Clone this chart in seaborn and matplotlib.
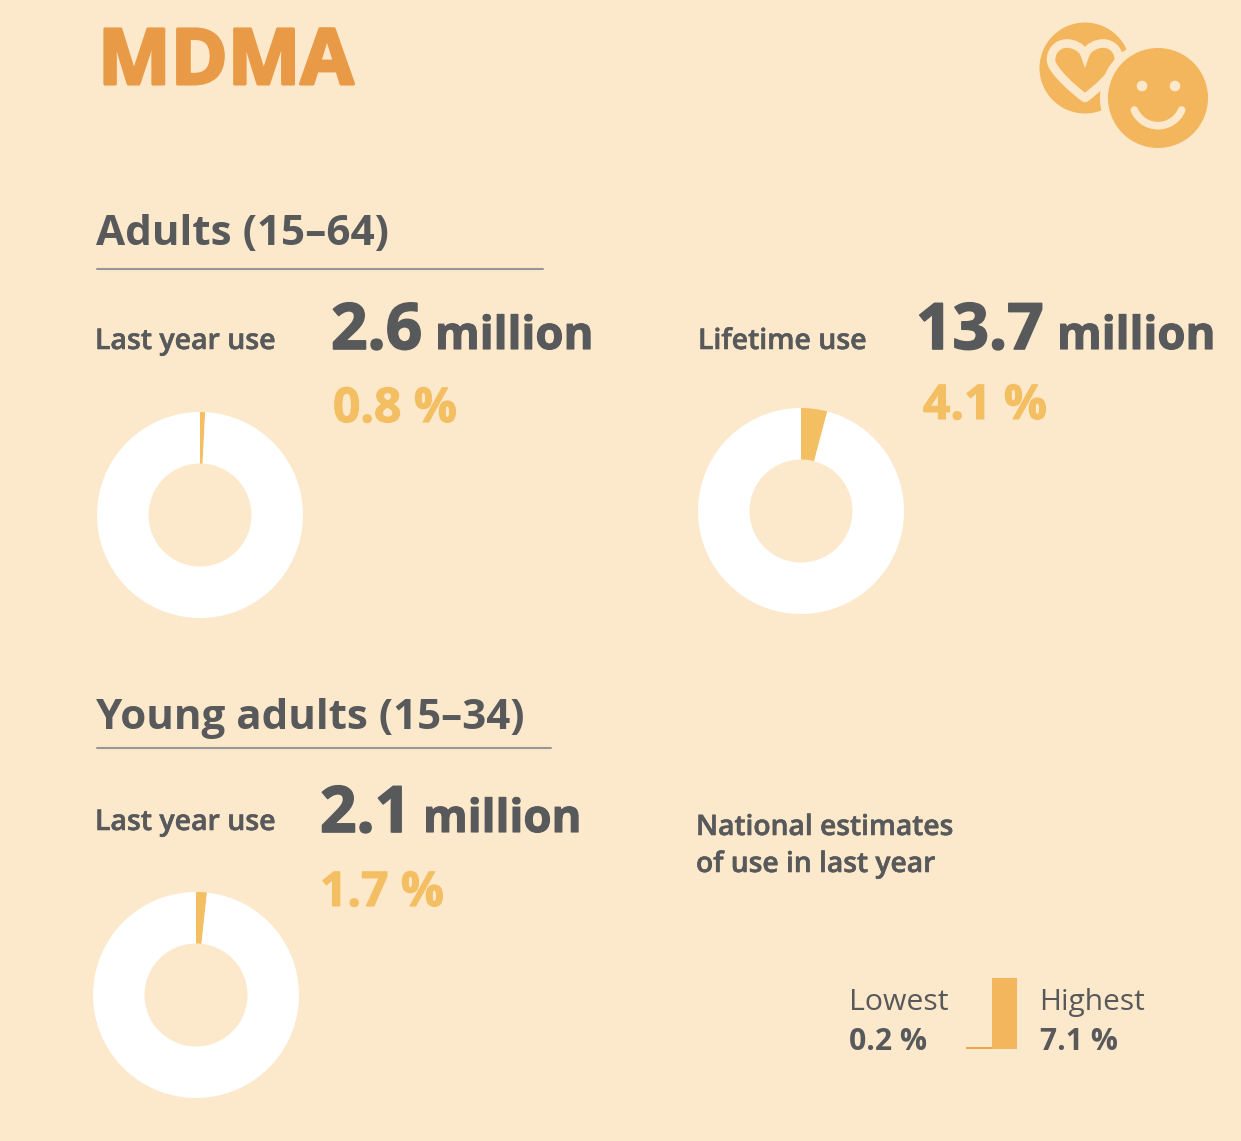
"""MDMA use infographic: donuts for prevalence, small bars for national range."""

import matplotlib.patheffects as pe
import matplotlib.pyplot as plt
import pandas as pd
import seaborn as sns
from matplotlib.patches import Arc, Circle, PathPatch, Polygon
from matplotlib.path import Path

sns.set_theme(style="white")
plt.rcParams['font.family'] = ['Open Sans', 'DejaVu Sans']

W, H = 1241, 1141
BG = "#FCE9CC"
GREY = "#58595B"
ORANGE = "#E99A46"
YELLOW = "#F4BF62"
ICON = "#F4B65C"
WHITE = "#FFFFFF"

# data
donut_labels = ["Last year use", "Lifetime use", "Last year use"]
donut_millions = ["2.6", "13.7", "2.1"]
donut_percent = [0.8, 4.1, 1.7]
range_labels = ["Lowest", "Highest"]
range_values = [0.2, 7.1]

fig = plt.figure(figsize=(W / 100, H / 100), dpi=100, facecolor=BG)

# overlay in pixel coordinates for text and rules
bg = fig.add_axes([0, 0, 1, 1])
bg.set_xlim(0, W)
bg.set_ylim(H, 0)
bg.axis("off")


def px_axes(x0, y0, x1, y1):
    return fig.add_axes([x0 / W, 1 - y1 / H, (x1 - x0) / W, (y1 - y0) / H])


def donut(cx, cy, pct, r=103):
    ax = px_axes(cx - r, cy - r, cx + r, cy + r)
    ax.pie(
        [pct, 100 - pct], colors=[YELLOW, WHITE], startangle=90, counterclock=False,
        radius=1, wedgeprops=dict(width=0.5, linewidth=0),
    )
    ax.set_xlim(-1, 1)
    ax.set_ylim(-1, 1)
    ax.set_aspect("equal")
    ax.patch.set_alpha(0)


def label(x, y, s, size, color=GREY, weight="semibold", heavy=0.0):
    t = bg.text(x, y, s, fontsize=size, color=color, fontweight=weight, va="baseline", ha="left")
    # Open Sans is lighter than the original face, thicken it a little
    if heavy:
        t.set_path_effects([pe.withStroke(linewidth=heavy, foreground=color)])


# title
label(98, 84, "MDMA", 55.5, ORANGE, "bold", heavy=2.2)

# section headers
label(96, 245, "Adults (15–64)", 30.4, weight="bold")
bg.plot([97, 543], [268.5, 268.5], color="#97979A", lw=1.5)
label(96, 729, "Young adults (15–34)", 30.3, weight="bold")
bg.plot([97, 551], [748, 748], color="#97979A", lw=1.5)

# stat blocks
label(95, 349, donut_labels[0], 20.5, heavy=0.4)
label(331, 349, donut_millions[0], 46, weight="bold", heavy=1.2)
label(435, 349, "million", 32.8, weight="bold", heavy=0.8)
label(333, 422, f"{donut_percent[0]} %", 34.5, YELLOW, "bold", heavy=0.8)
donut(200, 515, donut_percent[0])

label(698, 349, donut_labels[1], 20.5, heavy=0.4)
label(916, 349, donut_millions[1], 46, weight="bold", heavy=1.2)
label(1057, 349, "million", 32.8, weight="bold", heavy=0.8)
label(923, 419, f"{donut_percent[1]} %", 34.5, YELLOW, "bold", heavy=0.8)
donut(801, 511, donut_percent[1])

label(95, 830, donut_labels[2], 20.5, heavy=0.4)
label(320, 832, donut_millions[2], 46, weight="bold", heavy=1.2)
label(423, 832, "million", 32.8, weight="bold", heavy=0.8)
label(320, 906, f"{donut_percent[2]} %", 34.5, YELLOW, "bold", heavy=0.8)
donut(196, 995, donut_percent[2])

# national estimates
label(696, 835, "National estimates", 20.3, heavy=0.4)
label(696, 872, "of use in last year", 20.3, heavy=0.4)

label(849, 1010, range_labels[0], 21.8, weight="normal")
label(849, 1050, f"{range_values[0]} %", 21.7, weight="bold")
label(1039, 1010, range_labels[1], 21.5, weight="normal")
label(1040, 1050, f"{range_values[1]} %", 21.7, weight="bold")

bar_ax = px_axes(966, 978, 1017, 1049)
df_range = pd.DataFrame({"label": range_labels, "value": range_values})
sns.barplot(
    data=df_range, x="label", y="value", hue="label", palette=["#F0A544", ICON],
    width=1.0, legend=False, ax=bar_ax, linewidth=0, saturation=1,
)
bar_ax.set_xlim(-0.5, 1.5)
bar_ax.set_ylim(0, 7.1)
bar_ax.axis("off")

# icon: heart badge behind the smiley
bg.add_patch(Circle((1085, 68), 45.5, color=ICON, lw=0))
heart = Path(
    [(1085, 54), (1081, 47), (1074, 43.5), (1066.7, 43.5), (1058, 43.5), (1051, 50.5), (1051, 60),
     (1051, 70), (1075, 91), (1085, 98), (1095, 91), (1119, 70), (1119, 60),
     (1119, 50.5), (1112, 43.5), (1103.3, 43.5), (1096, 43.5), (1089, 47), (1085, 54)],
    [Path.MOVETO] + [Path.CURVE4] * 18,
)
bg.add_patch(PathPatch(heart, fc="none", ec=BG, lw=6.2, joinstyle="round"))
bg.add_patch(Polygon([(1078, 48), (1092, 48), (1085, 68)], closed=True, color=BG, lw=0))
bg.add_patch(Circle((1158, 98), 58, color=BG, lw=0))
bg.add_patch(Circle((1158, 98), 50, color=ICON, lw=0))
bg.add_patch(Circle((1142, 86), 5.3, color=BG, lw=0))
bg.add_patch(Circle((1175, 86), 5.3, color=BG, lw=0))
bg.add_patch(Arc((1158, 100), 51.4, 51.4, theta1=23, theta2=157, color=BG, lw=5.5, capstyle="round"))

fig.savefig("out.png", dpi=100, facecolor=BG)
